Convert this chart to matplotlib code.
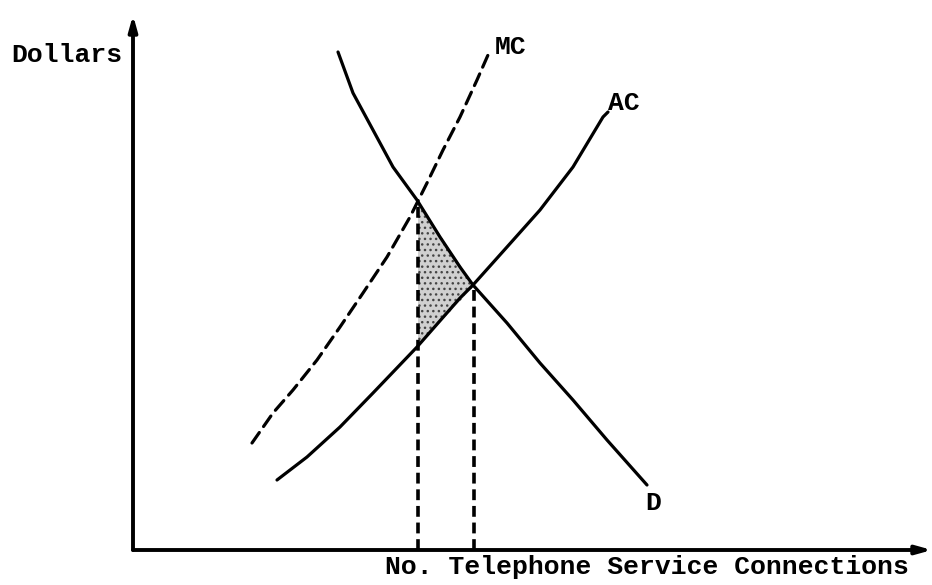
import matplotlib
matplotlib.use("Agg")
import matplotlib.pyplot as plt
import numpy as np

# Data (quantity, dollars) in arbitrary units
mc_q = [11.9, 14.0, 16.0, 18.4, 20.7, 23.0, 25.4, 27.7, 29.4, 31.0, 32.7, 34.4, 35.5]
mc_p = [10.7, 13.7, 16.0, 19.0, 22.3, 25.7, 29.3, 33.3, 36.7, 40.0, 43.3, 47.0, 49.5]

ac_q = [14.4, 17.4, 20.7, 24.0, 28.4, 32.7, 34.0, 37.4, 40.7, 44.0, 47.0, 47.5]
ac_p = [7.0, 9.3, 12.3, 15.7, 20.3, 25.2, 26.5, 30.3, 34.0, 38.3, 43.3, 43.8]

d_q = [20.5, 22.0, 24.0, 26.0, 28.4, 30.7, 32.7, 34.0, 37.4, 40.7, 44.0, 47.4, 51.4]
d_p = [49.8, 45.7, 42.0, 38.3, 35.0, 31.3, 28.3, 26.5, 22.7, 18.7, 15.0, 11.0, 6.5]

q_regulated = 28.5   # MC = D
q_avgcost = 34.1     # AC = D

labels = {"MC": (36.2, 50.3), "AC": (47.5, 44.7), "D": (51.2, 4.7)}

fig = plt.figure(figsize=(9.32, 5.85), dpi=100)
ax = fig.add_axes([0, 0, 1, 1])
ax.set_xlim(-13.3, 79.9)
ax.set_ylim(-3.5, 55.0)
ax.axis("off")

font = dict(family=["Liberation Mono", "DejaVu Sans Mono"], fontsize=19, color="black",
            fontweight="bold")

# axes with arrows
ax.annotate("", xy=(79.9, 0), xytext=(0, 0),
            arrowprops=dict(arrowstyle="-|>,head_length=0.9,head_width=0.25", lw=2.8, color="black",
                            shrinkA=0, shrinkB=0))
ax.annotate("", xy=(0, 53.5), xytext=(0, 0),
            arrowprops=dict(arrowstyle="-|>,head_length=0.9,head_width=0.25", lw=2.8, color="black",
                            shrinkA=0, shrinkB=0))

# shaded deadweight triangle
qa = np.array(ac_q); pa = np.array(ac_p)
qd = np.array(d_q); pd_ = np.array(d_p)
qs = [q_regulated, q_avgcost]
top = [np.interp(q_regulated, qd, pd_), np.interp(q_avgcost, qd, pd_)]
bot = [np.interp(q_regulated, qa, pa), np.interp(q_avgcost, qa, pa)]
plt.rcParams["hatch.color"] = "#444444"
ax.fill([qs[0], qs[1], qs[0]], [top[0], top[1], bot[0]], facecolor="#d0d0d0",
        edgecolor="#444444", linewidth=0, hatch="...", zorder=1)

# curves
ax.plot(mc_q, mc_p, color="black", lw=2.3, linestyle=(0, (4, 2.3)),
        dash_capstyle="round", zorder=3)
ax.plot(ac_q, ac_p, color="black", lw=2.3, solid_capstyle="round",
        solid_joinstyle="round", zorder=3)
ax.plot(d_q, d_p, color="black", lw=2.3, solid_capstyle="round",
        solid_joinstyle="round", zorder=3)

# vertical dashed lines
ax.plot([q_regulated, q_regulated], [0, top[0]], color="black", lw=2.6,
        linestyle=(0, (3, 1.6)), zorder=2)
ax.plot([q_avgcost, q_avgcost], [0, top[1]], color="black", lw=2.6,
        linestyle=(0, (3, 1.6)), zorder=2)

# labels
for name, (x, y) in labels.items():
    ax.text(x, y, name, ha="left", va="center", **font)
ax.text(-1.1, 49.5, "Dollars", ha="right", va="center", **font)
ax.text(25.2, -1.7, "No. Telephone Service Connections", ha="left", va="center", **font)

fig.savefig("out.png", dpi=100)
